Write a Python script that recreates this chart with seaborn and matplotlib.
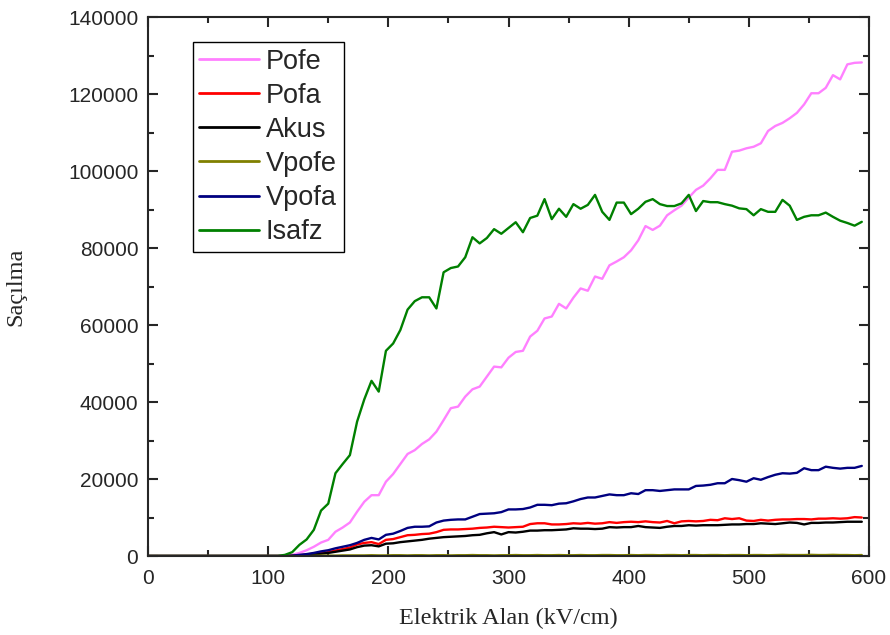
import numpy as np
import pandas as pd
import seaborn as sns
import matplotlib.pyplot as plt
from matplotlib.ticker import MultipleLocator

# Elektrik alan (kV/cm), sampled every 6 kV/cm
alan = np.arange(0, 600, 6)

pofe = [0, 0, 0, 0, 0, 0, 0, 0, 0, 0,
        0, 0, 0, 0, 0, 0, 0, 0, 0, 0,
        300, 800, 1500, 2400, 3500, 4200, 6300, 7400, 8700, 11500,
        14100, 15800, 15800, 19300, 21300, 23900, 26500, 27500, 29100, 30300,
        32300, 35300, 38400, 38800, 41400, 43300, 44000, 46600, 49200, 49000,
        51500, 53000, 53300, 57000, 58500, 61700, 62200, 65500, 64300, 67100,
        69500, 68900, 72600, 72000, 75500, 76500, 77600, 79400, 82000, 85700,
        84700, 85800, 88500, 89800, 91000, 93100, 95100, 96200, 98100, 100300,
        100300, 105000, 105300, 105900, 106300, 107200, 110400, 111700, 112500, 113700,
        115100, 117300, 120200, 120200, 121600, 124900, 123800, 127700, 128100, 128200]

pofa = [0, 0, 0, 0, 0, 0, 0, 0, 0, 0,
        0, 0, 0, 0, 0, 0, 0, 0, 0, 0,
        100, 200, 400, 600, 800, 1000, 1400, 1800, 2200, 3000,
        3400, 3600, 3100, 4200, 4400, 4900, 5400, 5500, 5700, 5800,
        6200, 6800, 6900, 6900, 7000, 7100, 7300, 7400, 7600, 7500,
        7400, 7500, 7600, 8300, 8500, 8500, 8200, 8200, 8300, 8500,
        8400, 8600, 8400, 8500, 8800, 8600, 8800, 8900, 8800, 9000,
        8800, 8700, 9100, 8500, 9000, 9100, 9000, 9100, 9400, 9300,
        9800, 9600, 9800, 9200, 9100, 9400, 9200, 9400, 9500, 9500,
        9600, 9600, 9500, 9700, 9700, 9800, 9700, 9800, 10100, 10000]

akus = [0, 0, 0, 0, 0, 0, 0, 0, 0, 0,
        0, 0, 0, 0, 0, 0, 0, 0, 0, 0,
        0, 100, 200, 400, 600, 800, 1100, 1400, 1700, 2300,
        2700, 2800, 2500, 3200, 3300, 3600, 3800, 4000, 4200, 4500,
        4700, 4900, 5000, 5100, 5200, 5400, 5500, 5900, 6200, 5600,
        6200, 6100, 6300, 6600, 6600, 6700, 6700, 6800, 6900, 7200,
        7100, 7100, 7000, 7100, 7500, 7400, 7500, 7500, 7800, 7500,
        7400, 7300, 7600, 7800, 7800, 8000, 7900, 8000, 8000, 8000,
        8100, 8200, 8200, 8300, 8300, 8500, 8400, 8300, 8500, 8700,
        8600, 8200, 8600, 8600, 8700, 8700, 8800, 8900, 8900, 8900]

vpofe = [0, 0, 0, 0, 0, 0, 0, 0, 0, 0,
         0, 0, 0, 0, 0, 0, 0, 0, 0, 0,
         0, 0, 50, 50, 100, 100, 100, 150, 150, 150,
         150, 200, 150, 150, 200, 200, 150, 200, 200, 150,
         200, 200, 150, 200, 200, 250, 200, 200, 150, 200,
         200, 250, 200, 200, 250, 200, 200, 250, 200, 200,
         250, 200, 200, 250, 250, 200, 200, 250, 200, 250,
         250, 200, 250, 250, 200, 250, 250, 200, 250, 250,
         200, 250, 250, 200, 250, 250, 200, 250, 300, 250,
         250, 250, 300, 250, 250, 300, 250, 250, 200, 250]

vpofa = [0, 0, 0, 0, 0, 0, 0, 0, 0, 0,
         0, 0, 0, 0, 0, 0, 0, 0, 0, 0,
         100, 300, 500, 800, 1200, 1500, 2000, 2400, 2800, 3400,
         4200, 4700, 4300, 5500, 5800, 6500, 7300, 7600, 7600, 7700,
         8700, 9200, 9400, 9500, 9500, 10200, 10900, 11000, 11100, 11400,
         12100, 12100, 12200, 12600, 13300, 13300, 13200, 13600, 13700, 14200,
         14800, 15200, 15200, 15600, 16000, 15800, 15800, 16300, 16100, 17100,
         17100, 16900, 17100, 17300, 17300, 17300, 18200, 18300, 18500, 18900,
         18900, 20000, 19700, 19300, 20200, 19800, 20500, 21100, 21500, 21400,
         21600, 22800, 22300, 22300, 23200, 22900, 22700, 22900, 22900, 23400]

isafz = [0, 0, 0, 0, 0, 0, 0, 0, 0, 0,
         0, 0, 0, 0, 0, 0, 0, 0, 0, 300,
         1000, 2900, 4300, 6800, 11800, 13600, 21500, 23900, 26200, 34900,
         40700, 45500, 42700, 53300, 55200, 58700, 64000, 66200, 67200, 67200,
         64300, 73700, 74800, 75200, 77600, 82800, 81200, 82600, 84900, 83700,
         85200, 86700, 84100, 87800, 88400, 92700, 87500, 90200, 88100, 91400,
         90200, 91200, 93800, 89400, 87300, 91800, 91800, 88800, 90200, 92000,
         92700, 91400, 90900, 90900, 91600, 93800, 89600, 92200, 91900, 91900,
         91400, 91000, 90300, 90100, 88500, 90100, 89400, 89400, 92500, 91000,
         87300, 88100, 88500, 88500, 89200, 88100, 87100, 86500, 85800, 86800]

names = ['Pofe', 'Pofa', 'Akus', 'Vpofe', 'Vpofa', 'Isafz']
colors = ['#FF80FF', '#FF0000', '#000000', '#808000', '#000080', '#008000']

frames = []
for name, vals in zip(names, [pofe, pofa, akus, vpofe, vpofa, isafz]):
    frames.append(pd.DataFrame({'alan': alan, 'sacilma': vals, 'seri': name}))
df = pd.concat(frames, ignore_index=True)

sns.set_style('ticks')
plt.rcParams['font.family'] = ['Liberation Sans', 'DejaVu Sans']

fig = plt.figure(figsize=(8.9, 6.35), dpi=100)
ax = fig.add_axes([0.1663, 0.1244, 0.8101, 0.8488])

sns.lineplot(data=df, x='alan', y='sacilma', hue='seri', hue_order=names,
             palette=dict(zip(names, colors)), linewidth=1.7, ax=ax)

ax.set_xlim(0, 600)
ax.set_ylim(0, 140000)
ax.xaxis.set_major_locator(MultipleLocator(100))
ax.xaxis.set_minor_locator(MultipleLocator(50))
ax.yaxis.set_major_locator(MultipleLocator(20000))
ax.yaxis.set_minor_locator(MultipleLocator(10000))
ax.tick_params(which='both', direction='in', top=True, right=True,
               width=1.5, labelsize=15)
ax.tick_params(which='major', length=7, pad=7)
ax.tick_params(axis='x', which='major', pad=9)
ax.tick_params(which='minor', length=4)
for s in ax.spines.values():
    s.set_linewidth(1.5)

ax.set_xlabel('Elektrik Alan (kV/cm)', family='Liberation Serif', fontsize=17.5, labelpad=15)
ax.set_ylabel('Saçılma', family='Liberation Serif', fontsize=17.5, labelpad=30)

sns.move_legend(ax, 'upper left', bbox_to_anchor=(0.062, 0.954), title=None,
                frameon=True, fancybox=False, edgecolor='black', framealpha=1,
                fontsize=19.5, labelspacing=0.3, handlelength=2.2,
                handletextpad=0.25, borderpad=0.25, borderaxespad=0)
leg = ax.get_legend()
leg.get_frame().set_linewidth(1.0)
for line in leg.get_lines():
    line.set_linewidth(2.0)

fig.savefig('out.png', dpi=100)
